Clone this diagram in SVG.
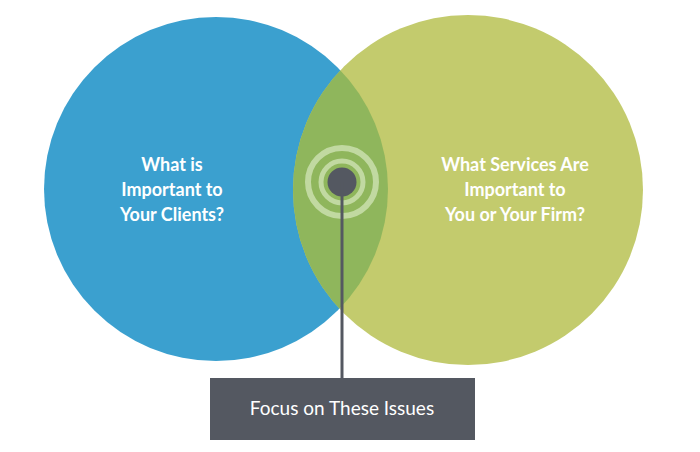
<svg xmlns="http://www.w3.org/2000/svg" width="700" height="452" viewBox="0 0 700 452">
<style>
.t{font-family:Lato,"Liberation Sans",sans-serif;font-size:18px;font-weight:bold;fill:#fff;text-anchor:middle}
.ring{fill:none;stroke:#c1d9a1}
</style>
<defs>
<clipPath id="cb"><circle cx="216" cy="189" r="172"/></clipPath>
</defs>
<rect width="700" height="452" fill="#fff"/>
<g id="clients"><circle cx="216" cy="189" r="172" fill="#3ba0cf"/>
<text class="t" x="172" y="171">What is</text><text class="t" x="172" y="196">Important to</text><text class="t" x="172" y="221">Your Clients?</text></g>
<g id="services"><circle cx="468" cy="190" r="175" fill="#c3cb6d"/>
<text class="t" x="515" y="171">What Services Are</text><text class="t" x="515" y="196">Important to</text><text class="t" x="515" y="221">You or Your Firm?</text></g>
<g id="overlap"><circle cx="468" cy="190" r="175" fill="#8fb65c" clip-path="url(#cb)"/>
<circle class="ring" cx="342" cy="182" r="34" stroke-width="6"/>
<circle class="ring" cx="342" cy="182" r="21" stroke-width="5"/>
<circle cx="342" cy="182" r="14.5" fill="#545861"/></g>
<g id="connectors"><line x1="342" y1="182" x2="342" y2="379" stroke="#545861" stroke-width="3"/></g>
<g id="focus"><rect x="210" y="378" width="265" height="62" fill="#545861"/>
<text x="342" y="415" font-family="Lato,'Liberation Sans',sans-serif" font-size="19" fill="#fff" text-anchor="middle">Focus on These Issues</text></g>
</svg>
